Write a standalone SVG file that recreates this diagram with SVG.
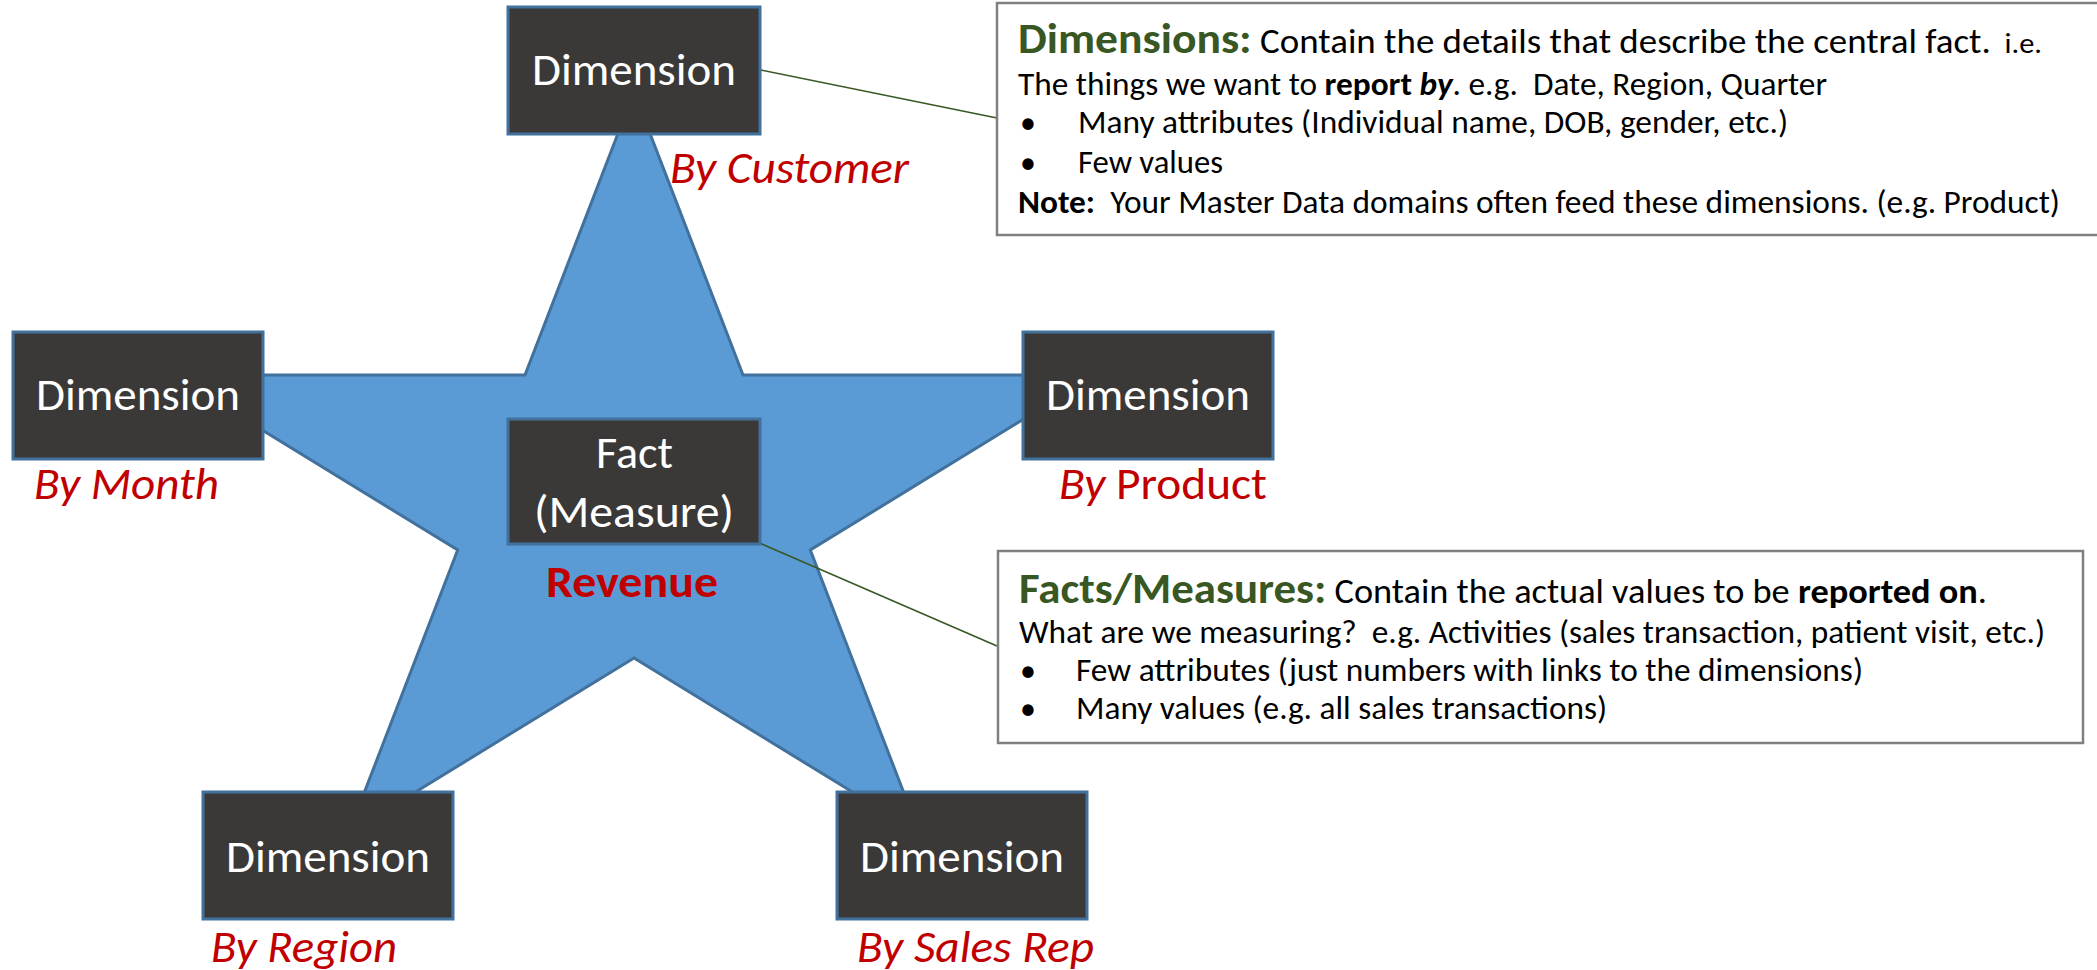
<svg xmlns="http://www.w3.org/2000/svg" width="2097" height="970" viewBox="0 0 2097 970">
  <style>
    text { font-family: Carlito, Calibri, Lato, "Open Sans", sans-serif; }
    .star { fill: #5B9BD5; stroke: #41719C; stroke-width: 3; stroke-linejoin: miter; }
    .box { fill: #3B3838; stroke: #41719C; stroke-width: 3; }
    .boxtxt { fill: #FFFFFF; font-size: 45px; }
    .lbl { fill: #C00000; font-size: 45px; font-style: italic; }
    .rev { fill: #C00000; font-size: 45px; font-weight: bold; }
    .link { stroke: #385723; stroke-width: 1.6; fill: none; }
    .note { fill: #FFFFFF; stroke: #808080; stroke-width: 2.5; }
    .body { fill: #000000; font-size: 32px; }
    .ttl { fill: #385723; font-size: 42px; font-weight: bold; }
    .big { font-size: 34px; }
    .sm { font-size: 28px; }
    .b { font-weight: bold; }
    .bi { font-weight: bold; font-style: italic; }
  </style>

  <!-- central star -->
  <polygon id="star" class="star" points="634,92 743,375 1095.6,375 810.3,550 919.3,833 634,658 348.7,833 457.7,550 172.4,375 525,375"/>

  <!-- leader lines from the boxes to the notes -->
  <g id="connectors">
    <line class="link" x1="761" y1="70" x2="997" y2="118"/>
    <line class="link" x1="755" y1="541" x2="997" y2="646"/>
  </g>

  <!-- dimension boxes -->
  <g id="dim-customer">
    <rect class="box" x="508" y="7" width="252" height="127"/>
    <text class="boxtxt" x="532" y="85" textLength="204" lengthAdjust="spacingAndGlyphs">Dimension</text>
    <text class="lbl" x="670" y="183" textLength="239" lengthAdjust="spacingAndGlyphs">By Customer</text>
  </g>
  <g id="dim-month">
    <rect class="box" x="13" y="332" width="250" height="127"/>
    <text class="boxtxt" x="36" y="410" textLength="204" lengthAdjust="spacingAndGlyphs">Dimension</text>
    <text class="lbl" x="34" y="499" textLength="185" lengthAdjust="spacingAndGlyphs">By Month</text>
  </g>
  <g id="dim-product">
    <rect class="box" x="1023" y="332" width="250" height="127"/>
    <text class="boxtxt" x="1046" y="410" textLength="204" lengthAdjust="spacingAndGlyphs">Dimension</text>
    <text class="lbl" x="1059" y="499" textLength="208" lengthAdjust="spacingAndGlyphs">By <tspan font-style="normal">Product</tspan></text>
  </g>
  <g id="dim-region">
    <rect class="box" x="203" y="792" width="250" height="127"/>
    <text class="boxtxt" x="226" y="872" textLength="204" lengthAdjust="spacingAndGlyphs">Dimension</text>
    <text class="lbl" x="211" y="962" textLength="186" lengthAdjust="spacingAndGlyphs">By Region</text>
  </g>
  <g id="dim-salesrep">
    <rect class="box" x="837" y="792" width="250" height="127"/>
    <text class="boxtxt" x="860" y="872" textLength="204" lengthAdjust="spacingAndGlyphs">Dimension</text>
    <text class="lbl" x="857" y="962" textLength="237" lengthAdjust="spacingAndGlyphs">By Sales Rep</text>
  </g>

  <!-- fact box -->
  <g id="fact">
    <rect class="box" x="508" y="419" width="252" height="125"/>
    <text class="boxtxt" x="596" y="468" textLength="77" lengthAdjust="spacingAndGlyphs">Fact</text>
    <text class="boxtxt" x="534" y="527" textLength="200" lengthAdjust="spacingAndGlyphs">(Measure)</text>
    <text class="rev" x="546" y="597" textLength="172" lengthAdjust="spacingAndGlyphs">Revenue</text>
  </g>

  <!-- note on dimensions -->
  <g id="note-dimensions">
    <rect class="note" x="997" y="3" width="1110" height="232"/>
    <text class="body" x="1018" y="53" xml:space="preserve" textLength="1024" lengthAdjust="spacingAndGlyphs"><tspan class="ttl">Dimensions:</tspan><tspan class="big"> Contain the details that describe the central fact.</tspan><tspan class="sm">  i.e.</tspan></text>
    <text class="body" x="1018" y="95" xml:space="preserve" textLength="809" lengthAdjust="spacingAndGlyphs">The things we want to <tspan class="b">report </tspan><tspan class="bi">by</tspan>. e.g.  Date, Region, Quarter</text>
    <text class="body" x="1020" y="133">•</text>
    <text class="body" x="1078" y="133" textLength="710" lengthAdjust="spacingAndGlyphs">Many attributes (Individual name, DOB, gender, etc.)</text>
    <text class="body" x="1020" y="173">•</text>
    <text class="body" x="1078" y="173" textLength="145" lengthAdjust="spacingAndGlyphs">Few values</text>
    <text class="body" x="1018" y="213" xml:space="preserve" textLength="1042" lengthAdjust="spacingAndGlyphs"><tspan class="b">Note:</tspan>  Your Master Data domains often feed these dimensions. (e.g. Product)</text>
  </g>

  <!-- note on facts -->
  <g id="note-facts">
    <rect class="note" x="998" y="551" width="1085" height="192"/>
    <text class="body" x="1019" y="603" xml:space="preserve" textLength="968" lengthAdjust="spacingAndGlyphs"><tspan class="ttl">Facts/Measures:</tspan><tspan class="big"> Contain the actual values to be </tspan><tspan class="big b">reported on</tspan><tspan class="big">.</tspan></text>
    <text class="body" x="1019" y="643" xml:space="preserve" textLength="1026" lengthAdjust="spacingAndGlyphs">What are we measuring?  e.g. Activities (sales transaction, patient visit, etc.)</text>
    <text class="body" x="1020" y="681">•</text>
    <text class="body" x="1076" y="681" textLength="787" lengthAdjust="spacingAndGlyphs">Few attributes (just numbers with links to the dimensions)</text>
    <text class="body" x="1020" y="719">•</text>
    <text class="body" x="1076" y="719" textLength="531" lengthAdjust="spacingAndGlyphs">Many values (e.g. all sales transactions)</text>
  </g>
</svg>
